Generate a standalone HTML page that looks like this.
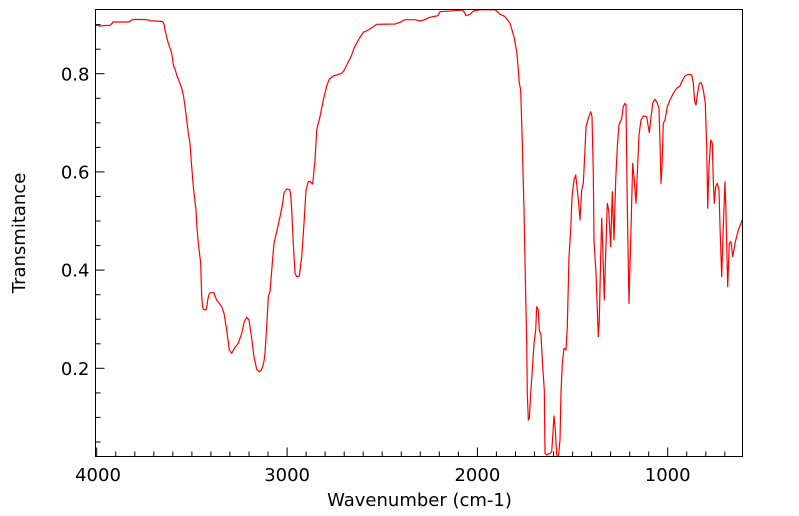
<!DOCTYPE html>
<html><head><meta charset="utf-8"><style>
html,body{margin:0;padding:0;background:#fff;}
svg{display:block;}
text{font-family:"DejaVu Sans","Liberation Sans",sans-serif;font-size:18px;fill:#000;}
</style></head><body>
<svg width="799" height="516" viewBox="0 0 799 516" xmlns="http://www.w3.org/2000/svg">
<defs><clipPath id="c"><rect x="95.5" y="9.5" width="647" height="447"/></clipPath></defs>
<rect width="799" height="516" fill="#fff"/>
<polyline clip-path="url(#c)" fill="none" stroke="#ff0000" stroke-width="1.2" stroke-linejoin="round" points="
95.5,25 98,25.5 100,26 105,25.5 110,25.3 112,23.5 113,22 120,22 128,22 130,21.5 132,19.8 135,19.5 142,19.5 148,19.8 150,20.7 155,21 162.7,21.5 164,24 165,30 166.7,37 168.3,43.3 170,48 171.7,53.3 172.5,58 173.3,65 175,69 176.7,75 179,81 181.7,88.3 183.5,96 185,106.7 186.5,118 188.3,133.3 190,143.3 191,158 191.7,166.7 193.3,186.7 196,210 197,228 198.3,243.3 200.7,263.3 201.2,280 201.7,296.7 202.5,306 203.3,309.3 206,310 207,306 207.7,300 209,294.5 210,292.7 214,292.7 215,296 216.7,300 219,303 221.7,306.7 224,313.3 226.7,330 229.3,350 231.7,353.3 233,351 235,347.3 238.3,343.3 241.7,333.3 244.3,321.7 246.7,317.3 249,320 250.5,330 251.7,338.3 254,356.7 256.7,369.3 259.3,371.7 261,370.5 262.7,366.7 264,361 265,353.3 266.7,326.7 268.3,296.7 270,291.7 272.3,263.3 274,243.3 276.7,231.7 280,216.7 282.7,203.3 284,192.7 286.7,189 290,190 291,198 291.7,210 293.3,243.3 295,273.3 296.7,276.7 299.3,276 301.7,256.7 304,223.3 306,190 308.3,181.7 310,181.5 312.7,184 315,160 316.7,130 318.3,123.3 320,116.7 323.3,100 326.7,86 329.3,79 333.3,76 336.7,75 341.7,73.3 344.3,70 346.7,65 351,56.7 354,48.3 358.3,40 363.3,32.3 368.3,30 371.7,27.7 376.7,24.3 395,24 400,22.3 405,19.7 415,19.7 420,21 425,19.7 429.3,17.3 436.7,16 438,15.5 440,11.7 461.7,10.2 463,10.5 464,11.7 466,15.7 470,14.3 473.3,11 480,9.8 495,9.8 498.3,12.5 500,14.3 503.3,15.7 505,16.7 510,23.3 514,36.7 516.7,51.7 517.5,60 519.3,83.3 520.7,90 522.3,143.3 524,210 525.3,276.7 526.7,343.3 527.3,393.3 528.3,420 529.3,418.3 530.7,393.3 532.3,370 534,343.3 535.7,330 536.7,306.7 538.3,310 539.3,330 541,335 542.3,360 544.3,390 545,453.3 546.7,455 550,453.3 551.7,451.7 552.7,436.7 554,416 555.3,430 556.7,455 558.3,458 560,440 561,393.3 562.3,363.3 564,348.3 566,350 567.3,326.7 569,256.7 570.7,230 572,196.7 574,180 575.7,175 577.3,190 578.7,203.3 580,220 581.7,190 583.3,183.3 585,150 586,126.7 588.3,118.3 590.7,111.7 592,116.7 593.3,173.3 594,240 596,273.3 597.7,320 598.3,336.7 599.3,320 600.7,256.7 601.7,218.3 602.7,246.7 604.3,300 605.7,253.3 607.3,203.3 608.7,210 610.7,246.7 612.3,191.7 614,240 615.7,180 617.3,146.7 619,125 621.7,118.3 623.3,106.7 625,103.3 626,105 627.3,206.7 629,303.3 630.7,240 632.7,163.3 634.3,180 636,203.3 637.3,173.3 639,135 641,120 643.3,116 646.7,116.7 648.3,126.7 649.3,132.7 650.7,120 652.7,103.3 654.7,99.3 656.7,101.7 659,108.3 660,143.3 661,183.3 662,166.7 663.3,123.3 665,120 667.3,106.7 670,100 673.3,93.3 676.7,88.3 680,86 681.7,81.7 685,76 688.3,74.3 691.7,75 693.3,83.3 694.7,101.7 696,105 697.3,95 699.3,83.3 701.3,82.7 703.3,90 705.3,103.3 706.7,146.7 707.7,208.3 709,166.7 710.7,140 712.3,143.3 713.3,180 714.3,203.3 715.7,186.7 717.3,183.3 719,190 720,226.7 721.7,276.7 723.3,226.7 725,181.7 726,213.3 727.7,286.7 729.3,243.3 731,241.7 732.7,256.7 735,243.3 738.3,230 742.3,220"/>
<rect x="95.5" y="9.5" width="647" height="447" fill="none" stroke="#000" stroke-width="1"/>
<g stroke="#000" stroke-width="1">
<!-- x major ticks -->
<line x1="96.7" y1="456.5" x2="96.7" y2="447.5"/>
<line x1="287.1" y1="456.5" x2="287.1" y2="447.5"/>
<line x1="477.4" y1="456.5" x2="477.4" y2="447.5"/>
<line x1="667.7" y1="456.5" x2="667.7" y2="447.5"/>
<!-- x minor ticks -->
<line x1="115.7" y1="456.5" x2="115.7" y2="451.5"/>
<line x1="134.8" y1="456.5" x2="134.8" y2="451.5"/>
<line x1="153.8" y1="456.5" x2="153.8" y2="451.5"/>
<line x1="172.8" y1="456.5" x2="172.8" y2="451.5"/>
<line x1="191.9" y1="456.5" x2="191.9" y2="451.5"/>
<line x1="210.9" y1="456.5" x2="210.9" y2="451.5"/>
<line x1="229.9" y1="456.5" x2="229.9" y2="451.5"/>
<line x1="249.0" y1="456.5" x2="249.0" y2="451.5"/>
<line x1="268.0" y1="456.5" x2="268.0" y2="451.5"/>
<line x1="306.1" y1="456.5" x2="306.1" y2="451.5"/>
<line x1="325.1" y1="456.5" x2="325.1" y2="451.5"/>
<line x1="344.2" y1="456.5" x2="344.2" y2="451.5"/>
<line x1="363.2" y1="456.5" x2="363.2" y2="451.5"/>
<line x1="382.2" y1="456.5" x2="382.2" y2="451.5"/>
<line x1="401.3" y1="456.5" x2="401.3" y2="451.5"/>
<line x1="420.3" y1="456.5" x2="420.3" y2="451.5"/>
<line x1="439.3" y1="456.5" x2="439.3" y2="451.5"/>
<line x1="458.4" y1="456.5" x2="458.4" y2="451.5"/>
<line x1="496.4" y1="456.5" x2="496.4" y2="451.5"/>
<line x1="515.5" y1="456.5" x2="515.5" y2="451.5"/>
<line x1="534.5" y1="456.5" x2="534.5" y2="451.5"/>
<line x1="553.5" y1="456.5" x2="553.5" y2="451.5"/>
<line x1="572.6" y1="456.5" x2="572.6" y2="451.5"/>
<line x1="591.6" y1="456.5" x2="591.6" y2="451.5"/>
<line x1="610.6" y1="456.5" x2="610.6" y2="451.5"/>
<line x1="629.7" y1="456.5" x2="629.7" y2="451.5"/>
<line x1="648.7" y1="456.5" x2="648.7" y2="451.5"/>
<line x1="686.7" y1="456.5" x2="686.7" y2="451.5"/>
<line x1="705.8" y1="456.5" x2="705.8" y2="451.5"/>
<line x1="724.8" y1="456.5" x2="724.8" y2="451.5"/>
<!-- y major ticks -->
<line x1="95.5" y1="73.7" x2="104.5" y2="73.7"/>
<line x1="95.5" y1="171.9" x2="104.5" y2="171.9"/>
<line x1="95.5" y1="270.1" x2="104.5" y2="270.1"/>
<line x1="95.5" y1="368.3" x2="104.5" y2="368.3"/>
<!-- y minor ticks -->
<line x1="95.5" y1="24.6" x2="100.5" y2="24.6"/>
<line x1="95.5" y1="49.2" x2="100.5" y2="49.2"/>
<line x1="95.5" y1="98.3" x2="100.5" y2="98.3"/>
<line x1="95.5" y1="122.8" x2="100.5" y2="122.8"/>
<line x1="95.5" y1="147.4" x2="100.5" y2="147.4"/>
<line x1="95.5" y1="196.5" x2="100.5" y2="196.5"/>
<line x1="95.5" y1="221.0" x2="100.5" y2="221.0"/>
<line x1="95.5" y1="245.6" x2="100.5" y2="245.6"/>
<line x1="95.5" y1="294.7" x2="100.5" y2="294.7"/>
<line x1="95.5" y1="319.2" x2="100.5" y2="319.2"/>
<line x1="95.5" y1="343.8" x2="100.5" y2="343.8"/>
<line x1="95.5" y1="392.9" x2="100.5" y2="392.9"/>
<line x1="95.5" y1="417.4" x2="100.5" y2="417.4"/>
<line x1="95.5" y1="442.0" x2="100.5" y2="442.0"/>
</g>
<g text-anchor="end">
<text x="89.5" y="80.3">0.8</text>
<text x="89.5" y="178.5">0.6</text>
<text x="89.5" y="276.7">0.4</text>
<text x="89.5" y="374.9">0.2</text>
</g>
<g text-anchor="middle">
<text x="98" y="481">4000</text>
<text x="287.1" y="481">3000</text>
<text x="477.4" y="481">2000</text>
<text x="667.7" y="481">1000</text>
<text x="419.5" y="506">Wavenumber (cm-1)</text>
<text transform="translate(25,233) rotate(-90)">Transmitance</text>
</g>
</svg>
</body></html>
